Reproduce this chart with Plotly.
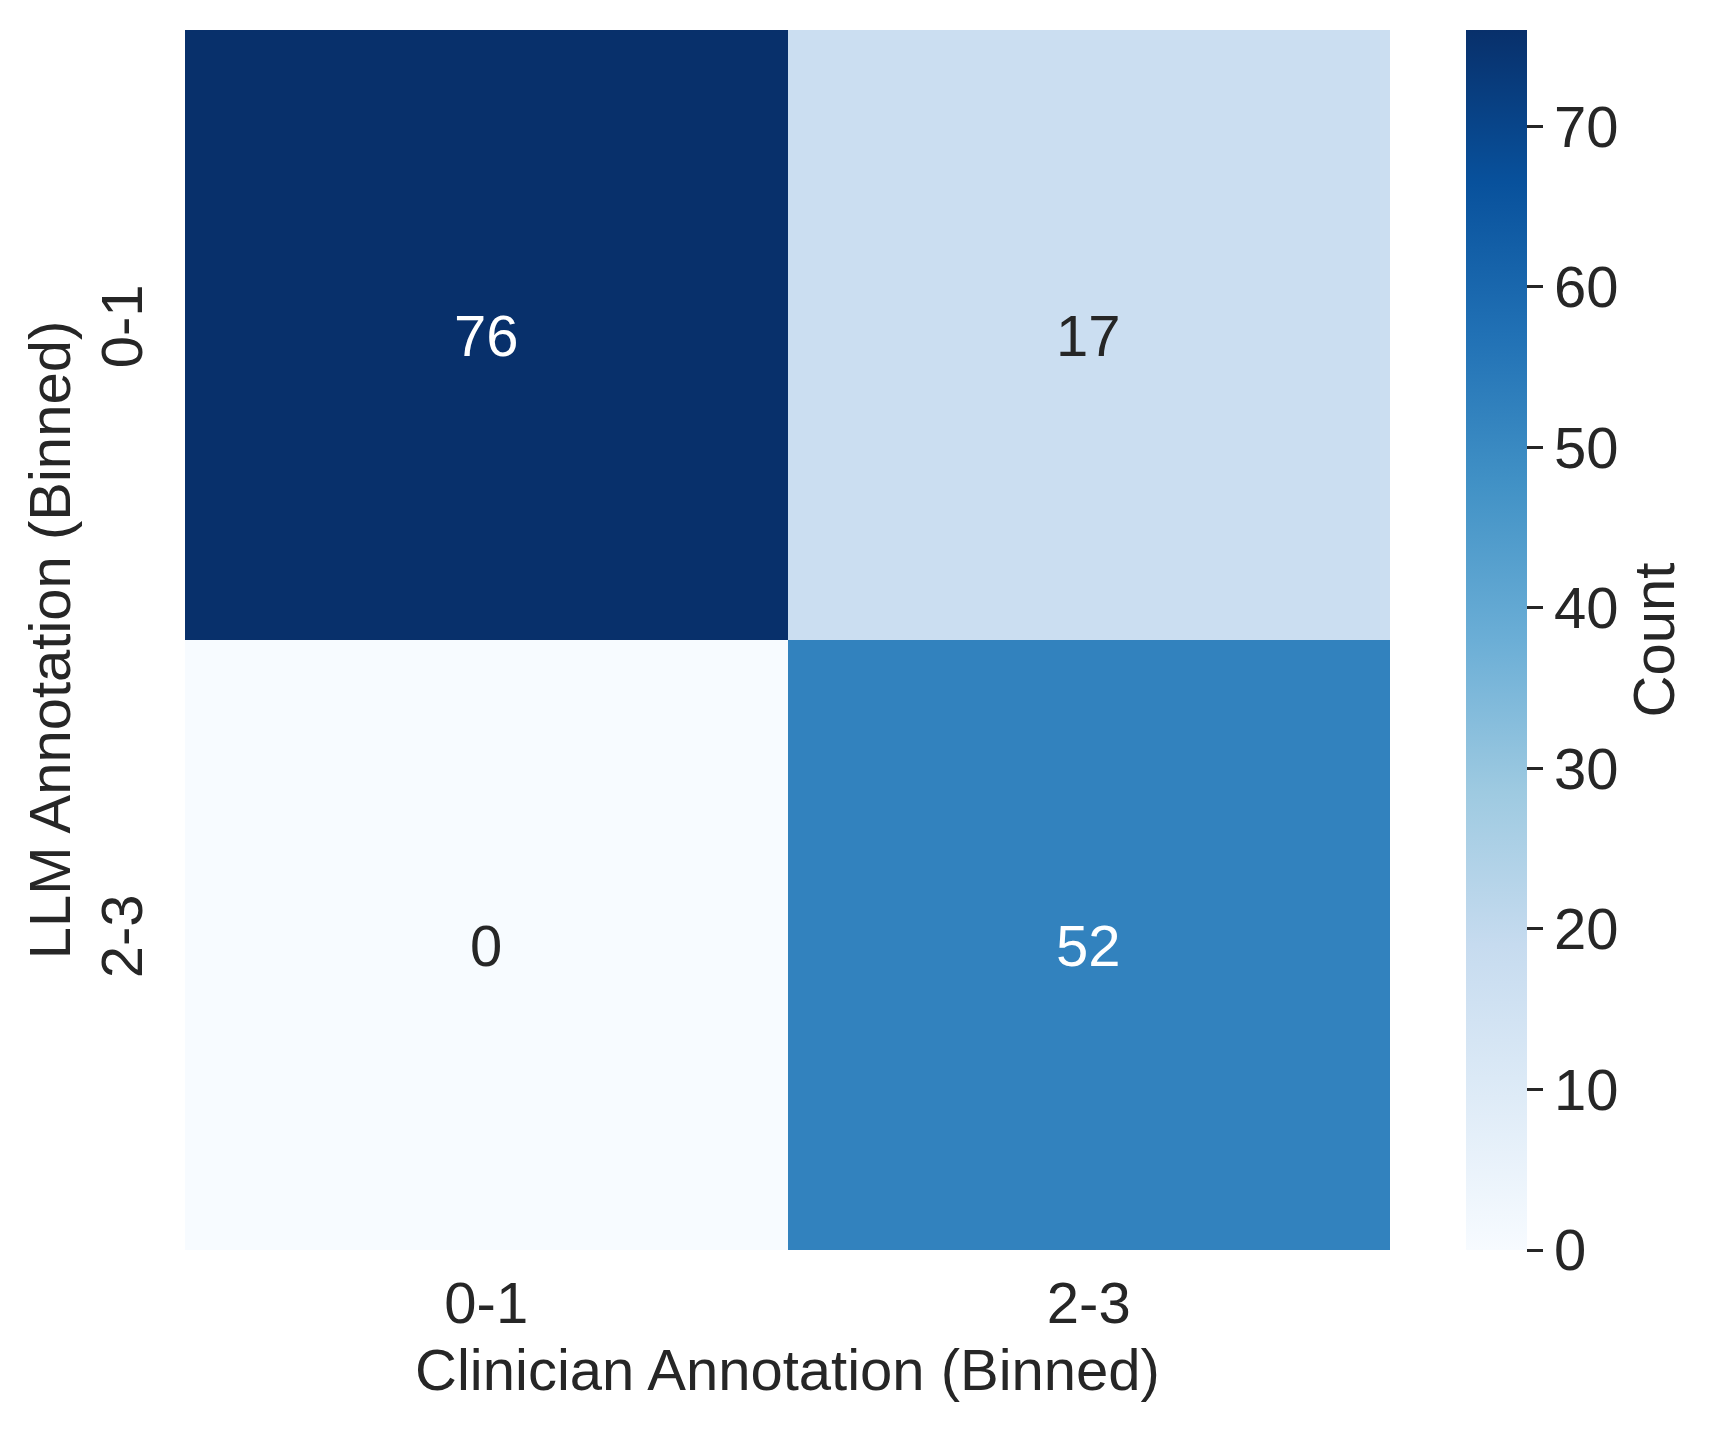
import plotly.graph_objects as go

# Data
clinician_bins = ["0-1", "2-3"]          # x categories (columns)
llm_bins = ["0-1", "2-3"]                # y categories (rows)
counts = [[76, 17],
          [0, 52]]
x_title = "Clinician Annotation (Binned)"
y_title = "LLM Annotation (Binned)"
cbar_title = "Count"
cbar_ticks = [0, 10, 20, 30, 40, 50, 60, 70]

W, H = 1721, 1435
L, R, T, B = 185, 331, 30, 185
FONT = "Liberation Sans, Arial, sans-serif"
FS = 58
TXT = "#262626"

blues = [
    [0.0, "rgb(247,251,255)"], [0.125, "rgb(222,235,247)"], [0.25, "rgb(198,219,239)"],
    [0.375, "rgb(158,202,225)"], [0.5, "rgb(107,174,214)"], [0.625, "rgb(66,146,198)"],
    [0.75, "rgb(33,113,181)"], [0.875, "rgb(8,81,156)"], [1.0, "rgb(8,48,107)"],
]

zmax = max(max(r) for r in counts)
zmin = 0

fig = go.Figure()
fig.add_trace(go.Heatmap(
    z=counts, x=clinician_bins, y=llm_bins,
    colorscale=blues, zmin=zmin, zmax=zmax,
    xgap=0, ygap=0, hoverinfo="skip",
    colorbar=dict(
        x=(1466 - L) / (W - L - R), xanchor="left", xref="paper",
        y=0.5, yanchor="middle", len=1.0, lenmode="fraction",
        xpad=0, ypad=0,
        thickness=61, thicknessmode="pixels", outlinewidth=0,
        tickvals=cbar_ticks, ticks="outside", ticklen=16, tickwidth=3,
        tickcolor=TXT, tickfont=dict(family=FONT, size=FS, color=TXT),
        title=dict(text=cbar_title, side="right", font=dict(family=FONT, size=FS, color=TXT)),
    ),
))

# Cell annotations
for i, yv in enumerate(llm_bins):
    for j, xv in enumerate(clinician_bins):
        v = counts[i][j]
        frac = (v - zmin) / (zmax - zmin)
        col = "white" if frac > 0.5 else TXT
        fig.add_annotation(x=xv, y=yv, xref="x", yref="y", text=str(v), showarrow=False,
                           font=dict(family=FONT, size=FS, color=col))

fig.update_layout(
    width=W, height=H,
    margin=dict(l=L, r=R, t=T, b=B, pad=0, autoexpand=False),
    paper_bgcolor="white", plot_bgcolor="white",
    font=dict(family=FONT, size=FS, color=TXT),
    xaxis=dict(
        type="category", showgrid=False, zeroline=False, showline=False, ticks="",
        automargin=False,
        tickfont=dict(family=FONT, size=FS, color=TXT), ticklabelstandoff=14,
        title=dict(text=x_title, font=dict(family=FONT, size=FS, color=TXT), standoff=15),
    ),
    yaxis=dict(
        type="category", autorange="reversed", showgrid=False, zeroline=False, showline=False,
        ticks="", tickangle=-90, automargin=False,
        tickfont=dict(family=FONT, size=FS, color=TXT), ticklabelstandoff=30,
        title=dict(text=y_title, font=dict(family=FONT, size=FS, color=TXT), standoff=0),
    ),
)

fig.write_html("out.html", config={"displayModeBar": False},
               post_script="document.body.style.margin='0';document.body.style.overflow='hidden';")
